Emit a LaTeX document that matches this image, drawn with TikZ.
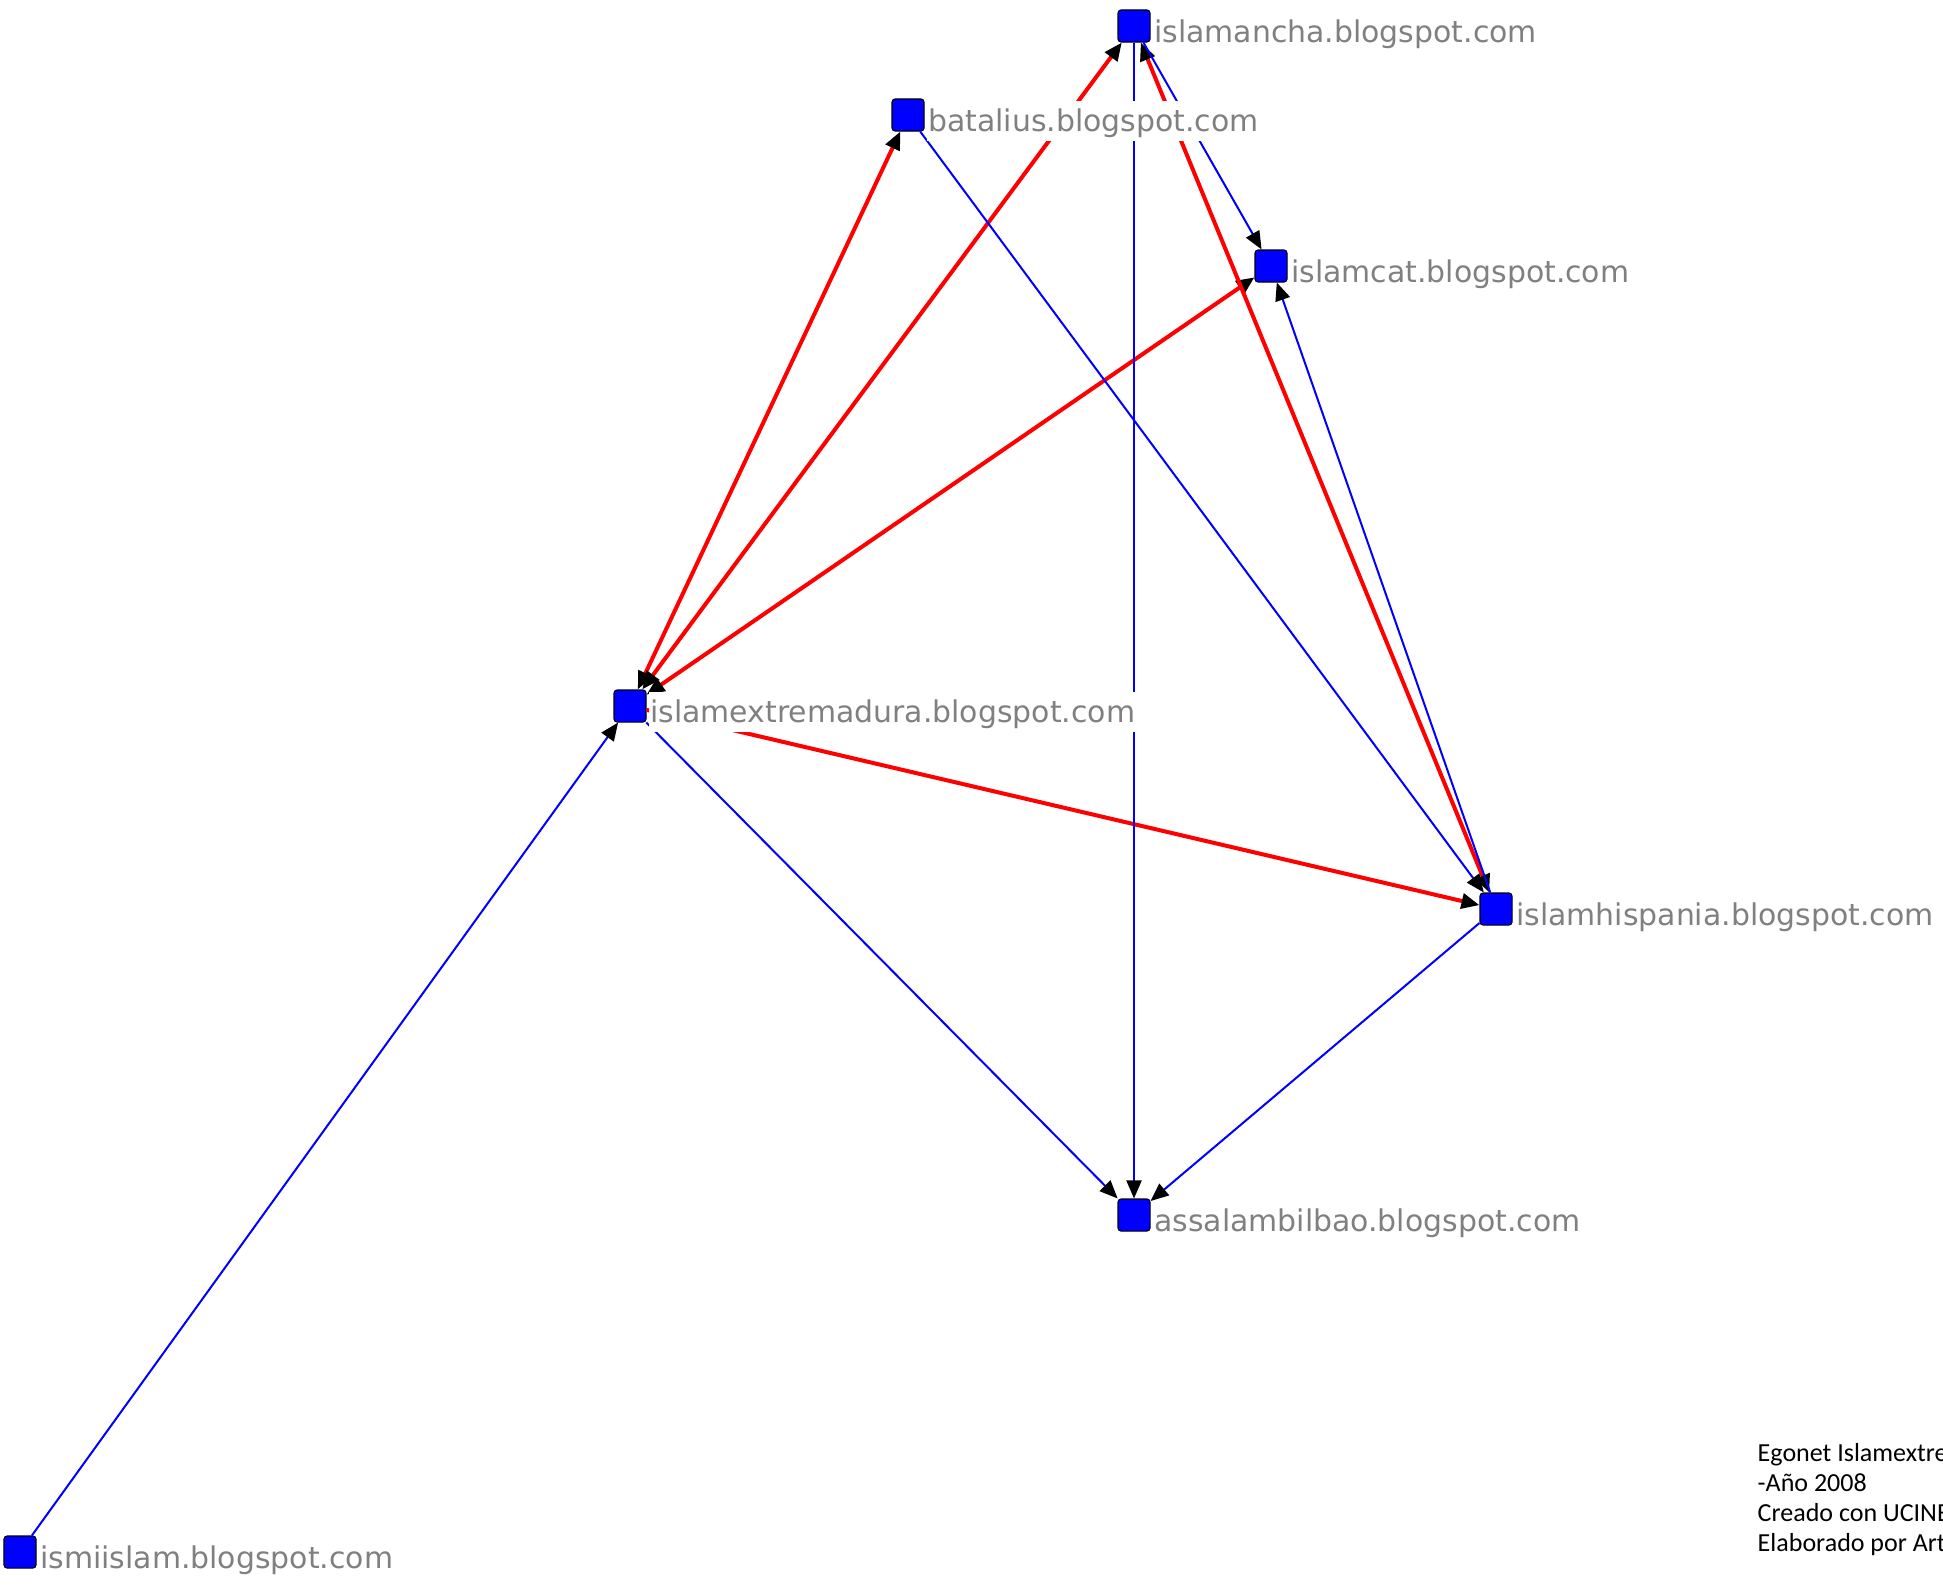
\documentclass[tikz,border=0pt]{standalone}
\usepackage{fontspec}
\setmainfont{DejaVu Sans}
\newfontfamily\notefont{Carlito}
\usetikzlibrary{arrows.meta}

\tikzset{
    blog/.style={draw=black, fill=blue, rounded corners=0.03cm, minimum size=0.32cm, inner sep=0pt, line width=0.3pt},
    lbl/.style={anchor=base west, fill=white, text=gray, font=\fontsize{8.5pt}{10pt}\selectfont, inner xsep=0.01cm, inner ysep=0pt, text height=0.31cm, text depth=0.09cm},
    redlink/.style={draw=red, line width=0.04cm},
    bluelink/.style={draw=blue, line width=0.02cm},
    blk/.tip={Triangle[length=0.18cm, width=0.15cm, color=black]}
}

\begin{document}
\begin{tikzpicture}[x=0.01cm, y=-0.01cm]
    \useasboundingbox (0,0) rectangle (1943,1587);
    \clip (0,0) rectangle (1943,1587);
    % blogs
    \node[blog] (mancha) at (1134,26) {};
    \node[blog] (batalius) at (908,115) {};
    \node[blog] (cat) at (1271,266) {};
    \node[blog] (extrem) at (630,706) {};
    \node[blog] (hispania) at (1496,909) {};
    \node[blog] (bilbao) at (1134,1215) {};
    \node[blog] (ismi) at (20,1552) {};
    % reciprocal links
    \draw[redlink, blk-blk] (extrem) -- (batalius);
    \draw[redlink, blk-blk] (extrem) -- (mancha);
    \draw[redlink, blk-blk] (extrem) -- (cat);
    \draw[redlink, -blk] (extrem) -- (hispania);
    \draw[redlink, blk-blk] (hispania) -- (mancha);
    % one-way links
    \draw[bluelink, -blk] (mancha) -- (cat);
    \draw[bluelink, -blk] (hispania) -- (cat);
    \draw[bluelink, -blk] (batalius) -- (hispania);
    \draw[bluelink, -blk] (mancha) -- (bilbao);
    \draw[bluelink, -blk] (extrem) -- (bilbao);
    \draw[bluelink, -blk] (hispania) -- (bilbao);
    \draw[bluelink, -blk] (ismi) -- (extrem);
    % names
    \node[lbl] (mancha-lbl) at ([xshift=0.02cm]mancha.south east) {islamancha.blogspot.com};
    \node[lbl] (batalius-lbl) at ([xshift=0.02cm]batalius.south east) {batalius.blogspot.com};
    \node[lbl] (cat-lbl) at ([xshift=0.02cm]cat.south east) {islamcat.blogspot.com};
    \node[lbl] (extrem-lbl) at ([xshift=0.02cm]extrem.south east) {islamextremadura.blogspot.com};
    \node[lbl] (hispania-lbl) at ([xshift=0.02cm]hispania.south east) {islamhispania.blogspot.com};
    \node[lbl] (bilbao-lbl) at ([xshift=0.02cm]bilbao.south east) {assalambilbao.blogspot.com};
    \node[lbl] (ismi-lbl) at ([xshift=0.02cm]ismi.south east) {ismiislam.blogspot.com};
    % credits
    \node[anchor=north west, align=left, inner sep=0pt, font=\notefont\fontsize{7.4pt}{8.5pt}\selectfont] (note) at (1757,1443)
        {Egonet Islamextremadura\\-Año 2008\\Creado con UCINET\\Elaborado por Art};
\end{tikzpicture}
\end{document}
